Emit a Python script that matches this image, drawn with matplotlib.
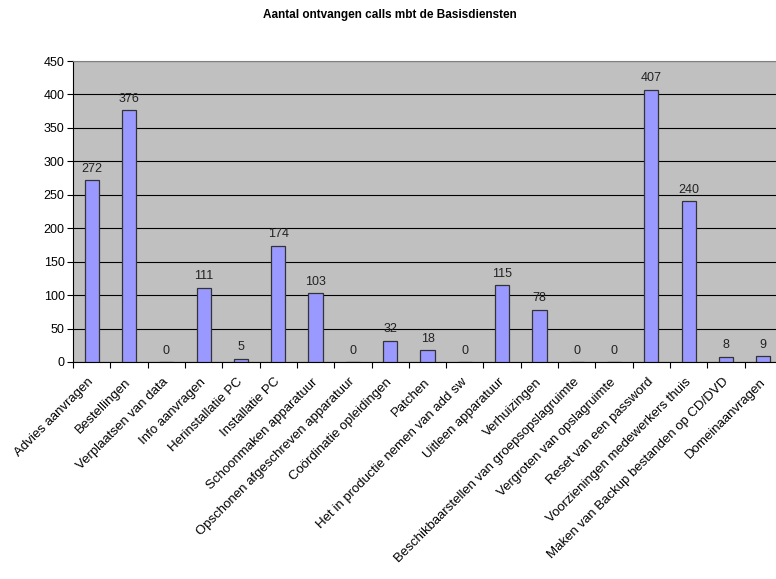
import matplotlib
matplotlib.use("Agg")
import matplotlib.pyplot as plt
import matplotlib.transforms as mtrans
import numpy as np

categories = [
    "Advies aanvragen", "Bestellingen", "Verplaatsen van data", "Info aanvragen",
    "Herinstallatie PC", "Installatie PC", "Schoonmaken apparatuur",
    "Opschonen afgeschreven apparatuur", "Coördinatie opleidingen", "Patchen",
    "Het in productie nemen van add sw", "Uitleen apparatuur", "Verhuizingen",
    "Beschikbaarstellen van groepsopslagruimte", "Vergroten van opslagruimte",
    "Reset van een password", "Voorzieningen medewerkers thuis",
    "Maken van Backup bestanden op CD/DVD", "Domeinaanvragen",
]
values = [272, 376, 0, 111, 5, 174, 103, 0, 32, 18, 0, 115, 78, 0, 0, 407, 240, 8, 9]
yticks = [0, 50, 100, 150, 200, 250, 300, 350, 400, 450]
title = "Aantal ontvangen calls mbt de Basisdiensten"

plt.rcParams['font.family'] = ['Liberation Sans', 'DejaVu Sans']

W, H = 776, 579
fig = plt.figure(figsize=(W / 100, H / 100), dpi=100)
left, right, top, bottom = 73, 782, 61, 362
ax = fig.add_axes([left / W, 1 - bottom / H, (right - left) / W, (bottom - top) / H])
ax.set_facecolor('#C0C0C0')

x = np.arange(len(categories))
ax.bar(x, values, width=0.38, color='#9999FF', edgecolor='#333333', linewidth=0.9, zorder=3)
for xi, v in zip(x, values):
    ax.text(xi, v + 8, str(v), ha='center', va='bottom', fontsize=9, color='#222222', zorder=4)

ax.set_xlim(-0.5, len(categories) - 0.5)
ax.set_ylim(0, 450)
ax.set_yticks(yticks)
ax.tick_params(axis='y', labelsize=9, length=4, direction='out', width=0.8, pad=2)
ax.yaxis.grid(True, color='black', linewidth=0.8, zorder=0)
ax.set_axisbelow(True)

ax.set_xticks(np.arange(len(categories) + 1) - 0.5)
ax.set_xticklabels([])
ax.tick_params(axis='x', length=4, direction='out', width=0.8)
ax.set_xticks(x, minor=True)
ax.set_xticklabels(categories, minor=True, rotation=45, ha='right', va='top',
                   rotation_mode='anchor', fontsize=9.5)
ax.tick_params(axis='x', which='minor', length=0, pad=10)
shift = mtrans.ScaledTranslation(-4 / 100, 0, fig.dpi_scale_trans)
for lab in ax.get_xticklabels(minor=True):
    lab.set_transform(lab.get_transform() + shift)

ax.spines['left'].set_color('black')
ax.spines['bottom'].set_color('black')
ax.spines['top'].set_color('#808080')
ax.spines['right'].set_visible(False)

fig.text(390 / W, 1 - 15 / H, title, ha='center', va='center', fontsize=8.5, fontweight='bold')

fig.savefig('out.png', dpi=100)
